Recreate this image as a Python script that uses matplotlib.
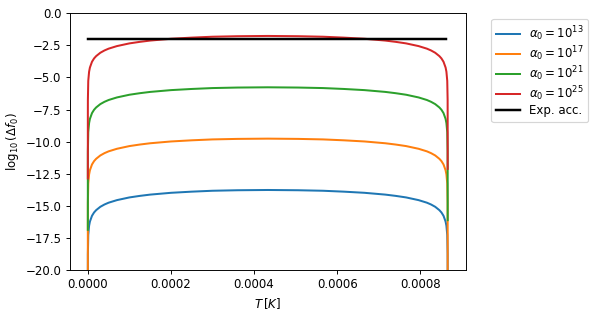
import matplotlib
matplotlib.use("Agg")
import matplotlib.pyplot as plt

# temperature samples (K), dense near both ends where the curves drop
T = [1e-11, 1e-9, 1e-8, 1e-7, 1e-6, 3e-6, 5e-6, 1e-5, 1.5e-5, 2e-5, 3e-5,
     4e-5, 5e-5, 7e-5, 1e-4, 1.25e-4, 1.5e-4, 2e-4, 2.5e-4, 3e-4, 3.6e-4,
     4.33e-4,
     5.06e-4, 5.66e-4, 6.16e-4, 6.66e-4, 7.16e-4, 7.41e-4, 7.66e-4, 7.96e-4,
     8.16e-4, 8.26e-4, 8.36e-4, 8.46e-4, 8.51e-4, 8.56e-4, 8.61e-4, 8.63e-4,
     8.65e-4, 8.659e-4, 8.6599e-4, 8.65999e-4, 8.66e-4]

alpha13 = [-24.87, -21.77, -20.27, -18.77, -17.27, -16.56, -16.23, -15.78,
           -15.52, -15.34, -15.08, -14.90, -14.76, -14.56, -14.35, -14.23,
           -14.13, -13.99, -13.90, -13.83, -13.79, -13.77,
           -13.79, -13.83, -13.90, -13.99, -14.13, -14.23, -14.35, -14.56,
           -14.76, -14.90, -15.08, -15.34, -15.52, -15.78, -16.23, -16.56,
           -17.27, -18.77, -20.27, -21.77, -24.12]
alpha17 = [-20.87, -17.77, -16.27, -14.77, -13.27, -12.56, -12.23, -11.78,
           -11.52, -11.34, -11.08, -10.90, -10.76, -10.56, -10.35, -10.23,
           -10.13, -9.99, -9.90, -9.83, -9.79, -9.77,
           -9.79, -9.83, -9.90, -9.99, -10.13, -10.23, -10.35, -10.56,
           -10.76, -10.90, -11.08, -11.34, -11.52, -11.78, -12.23, -12.56,
           -13.27, -14.77, -16.27, -17.77, -20.12]
alpha21 = [-16.87, -13.77, -12.27, -10.77, -9.27, -8.56, -8.23, -7.78,
           -7.52, -7.34, -7.08, -6.90, -6.76, -6.56, -6.35, -6.23,
           -6.13, -5.99, -5.90, -5.83, -5.79, -5.77,
           -5.79, -5.83, -5.90, -5.99, -6.13, -6.23, -6.35, -6.56,
           -6.76, -6.90, -7.08, -7.34, -7.52, -7.78, -8.23, -8.56,
           -9.27, -10.77, -12.27, -13.77, -16.12]
alpha25 = [-12.87, -9.77, -8.27, -6.77, -5.27, -4.56, -4.23, -3.78,
           -3.52, -3.34, -3.08, -2.90, -2.76, -2.56, -2.35, -2.23,
           -2.13, -1.99, -1.90, -1.83, -1.79, -1.77,
           -1.79, -1.83, -1.90, -1.99, -2.13, -2.23, -2.35, -2.56,
           -2.76, -2.90, -3.08, -3.34, -3.52, -3.78, -4.23, -4.56,
           -5.27, -6.77, -8.27, -9.77, -12.12]

exp_T = [0.0, 8.62e-4]
exp_acc = [-2.0, -2.0]

series = [(alpha13, r"$\alpha_0 = 10^{13}$"),
          (alpha17, r"$\alpha_0 = 10^{17}$"),
          (alpha21, r"$\alpha_0 = 10^{21}$"),
          (alpha25, r"$\alpha_0 = 10^{25}$")]

s = 0.85
fig = plt.figure(figsize=(5.97 / s, 3.15 / s), dpi=100 * s)
ax = fig.add_axes([0.117, 0.143, 0.663, 0.815])

for vals, lab in series:
    ax.plot(T, vals, label=lab, linewidth=1.7)
ax.plot(exp_T, exp_acc, color="k", linewidth=2.1, label="Exp. acc.")

ax.set_ylim(-20, 0)
ax.set_xlabel(r"$T\,[K]$")
ax.set_ylabel(r"$\log_{10}(\Delta f_0)$")
ax.legend(bbox_to_anchor=(1.05, 1), loc="upper left", labelspacing=0.12)

fig.savefig("out.png", dpi=100 * s)
